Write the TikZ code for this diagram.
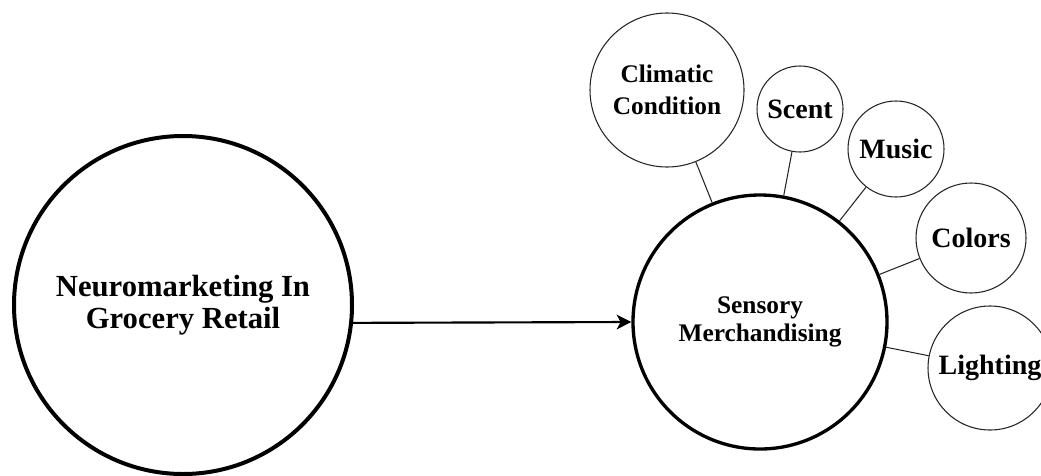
\documentclass[tikz,border=0pt]{standalone}
\usepackage{fontspec}
\setmainfont{Liberation Serif}
\usetikzlibrary{arrows.meta}

\tikzstyle{bigcircle} = [
circle,
draw=black,
line width=3pt,
inner sep=0pt,
align=center,
font=\fontsize{23}{23.5}\selectfont\bfseries
]
\tikzstyle{hubcircle} = [
circle,
draw=black,
line width=2.5pt,
inner sep=0pt,
align=center,
font=\fontsize{19}{21}\selectfont\bfseries
]
\tikzstyle{factor} = [
circle,
draw=black!85,
line width=0.8pt,
inner sep=0pt,
align=center,
font=\fontsize{21}{24}\selectfont\bfseries
]
\tikzstyle{link} = [
draw=black!85,
line width=0.8pt
]
\tikzstyle{arrow} = [
line width=1.6pt,
-{Stealth[length=11pt,width=11pt,inset=3pt]}
]

\begin{document}
\begin{tikzpicture}[
x=0.75pt,
y=-0.75pt
]
\useasboundingbox (0,0) rectangle (1041,475);

% Nodes
\node (neuro) [bigcircle, minimum size=253.5pt] at (183,305)
{Neuromarketing In\\Grocery Retail};

\node (sensory) [hubcircle, minimum size=190.5pt] at (760,322)
{Sensory\\Merchandising};

\node (climatic) [factor, minimum size=115.5pt, font=\fontsize{19}{24}\selectfont\bfseries] at (667,90)
{Climatic\\Condition};

\node (scent) [factor, minimum size=64.5pt] at (800,109)
{Scent};

\node (music) [factor, minimum size=72pt] at (896,149)
{Music};

\node (colors) [factor, minimum size=82.5pt] at (971,238)
{Colors};

\node (lighting) [factor, minimum size=93pt] at (990,368)
{Lighting};

% Links
\draw [link] (sensory) -- (climatic);
\draw [link] (sensory) -- (scent);
\draw [link] (sensory) -- (music);
\draw [link] (sensory) -- (colors);
\draw [link] (sensory) -- (lighting);

% Arrows
\draw [arrow] (neuro.-6) -- (sensory.west);

\end{tikzpicture}
\end{document}
